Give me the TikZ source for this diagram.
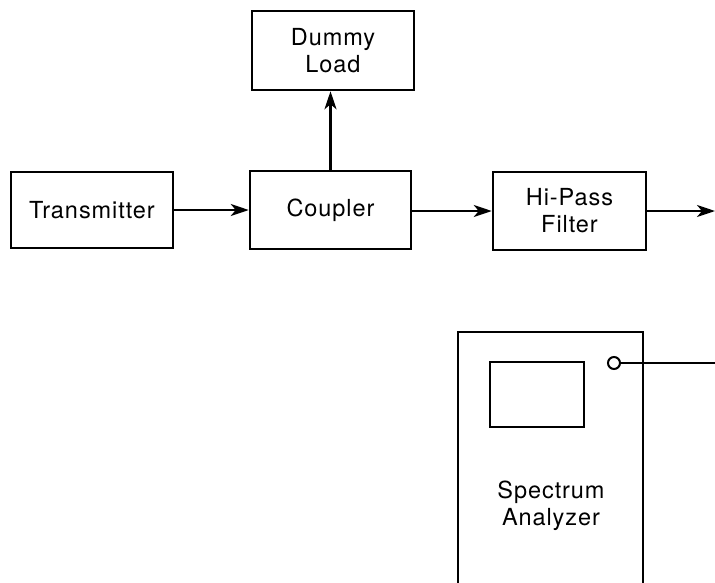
\documentclass[tikz,border=0pt]{standalone}
\usepackage{fontspec}
\setmainfont{TeX Gyre Heros}[LetterSpace=4]
\usetikzlibrary{arrows.meta}
\begin{document}
\begin{tikzpicture}[x=1pt,y=-1pt,
  line width=2.5pt,
  lbl/.style={font=\fontsize{23.5}{27}\selectfont},
  blk/.style={draw,rectangle,inner sep=0pt,align=center,lbl},
  sig/.style={-{Stealth[length=18pt,width=12pt,inset=5pt]}}]
\useasboundingbox (0,0) rectangle (715,582);
\clip (0,0) rectangle (715,582);
\node[blk,minimum width=162pt,minimum height=76pt] (tx) at (92,210) {Transmitter};
\node[blk,minimum width=161pt,minimum height=78pt] (coupler) at (330.5,210) {Coupler};
\node[blk,minimum width=162pt,minimum height=79pt] (dummy) at (333,50.5) {Dummy\\Load};
\node[blk,minimum width=153pt,minimum height=78pt] (hpf) at (569.5,211) {Hi-Pass\\Filter};
\node[blk,minimum width=185pt,minimum height=300pt] (sa) at (550.5,482) {};
\node[align=center,inner sep=0pt,lbl] (salabel) at (551,506) {Spectrum\\Analyzer};
\node[draw,rectangle,inner sep=0pt,minimum width=94pt,minimum height=65pt] (screen) at (537,394.5) {};
\node[draw,circle,inner sep=0pt,minimum size=12pt,line width=2pt] (port) at (614,363) {};
\coordinate (out1) at (715,211);
\coordinate (out2) at (717,363);
\draw[sig] (tx.east) -- (coupler.west);
\draw[sig] (coupler.north) -- (coupler.north |- dummy.south);
\draw[sig] (coupler.east |- hpf.west) -- (hpf.west);
\draw[sig] (hpf.east) -- (out1);
\draw (port.east) -- (out2);
\end{tikzpicture}
\end{document}
